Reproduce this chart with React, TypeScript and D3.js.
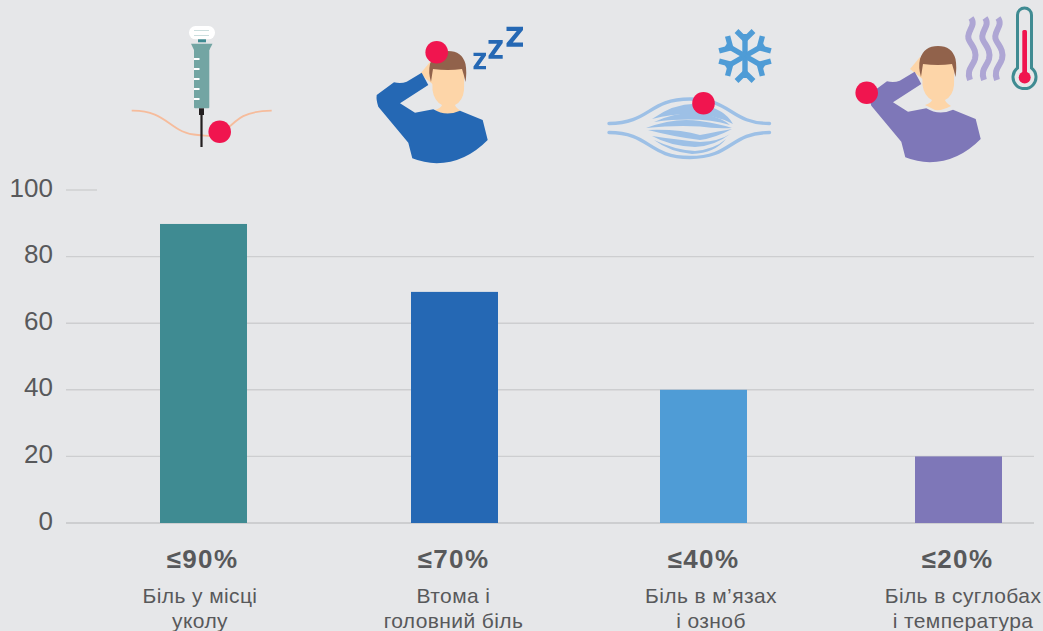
import React from "react";
import * as d3 from "d3";

const W = 1043, H = 631;
const categories = ["syringe", "fatigue", "muscle", "joint"];
const values = [89.8, 69.4, 40, 20];
const valueLabels = ["≤90%", "≤70%", "≤40%", "≤20%"];
const descLine1 = ["Біль у місці", "Втома і", "Біль в м’язах", "Біль в суглобах"];
const descLine2 = ["уколу", "головний біль", "і озноб", "і температура"];
const yTicks = [0, 20, 40, 60, 80, 100];
const barColors = ["#3f8b92", "#2568b4", "#4f9cd6", "#7e77b8"];

const barCenters = [203.5, 454.5, 703.5, 958.5];
const valueCenters = [202.5, 453.5, 703.5, 957.5];
const descCenters = [200, 453.5, 711, 963];

const x = d3.scaleOrdinal<string, number>().domain(categories).range(barCenters);
const y = d3.scaleLinear().domain([0, 100]).range([523, 190]);
const BAR_W = 87;

const TEXT = "#58595b", GRID = "#cdced0", RED = "#f0154f", SKIN = "#fdd5a8", HAIR = "#91624b";
const FONT = "'Liberation Sans', Arial, sans-serif";

function Person({ color, dx, dy, hdx, hdy }: { color: string; dx: number; dy: number; hdx: number; hdy: number }) {
  return (
    <g>
      <g transform={`translate(${hdx},${hdy})`}>
        <path d="M420 74 L430 62 L437 68 L435 86 Z" fill={SKIN} />
        <path d="M432 64 L432.5 90 Q434 101 442 105 Q441 108 435 110 L445 115 Q452 116 461 111 Q456 108 455 105 Q463 101 464 90 L464.5 64 Q448 54 432 64 Z" fill={SKIN} />
        <path d="M431 82 Q428 72 430 64 Q434 51 448 51 Q462 51 465.5 64 Q467 72 465.5 82 Q464 75 462 69 Q448 71 433 69 Q432 75 431 82 Z" fill={HAIR} />
      </g>
      <path
        transform={`translate(${dx},${dy})`}
        d="M421.7 72.7 L428.3 85 L400 103.3 L415 112.7 L433.3 109.3 Q446 117 460 110.7 L482.7 120 L487.7 140 Q465 163 436.7 163.3 Q424 163 412.3 158.3 L408.3 142.7 L378.3 106.7 Q376 100 376.7 95 L394 82.3 Q401 84 406.7 81.7 Z"
        fill={color}
      />
    </g>
  );
}

function Syringe() {
  const ticks = [59, 69, 79, 89, 99];
  return (
    <g>
      <path d="M131.7 110.7 C168 110 170 134 198 135 C212 136 215 138 225 131 C238 118 245 111 271.7 110.7" fill="none" stroke="#f6bc9c" strokeWidth={1.8} />
      <rect x={189} y={26} width={26} height={13.3} rx={6.5} fill="#fff" />
      <path d="M194 30.5H209M194 35.5H209" stroke="#b5d0d0" strokeWidth={0.7} />
      <rect x={198} y={39.3} width={8} height={3} fill="#3f8b92" />
      <path d="M191 43.7H212.5L209.3 50H194Z" fill="#73a5a3" />
      <rect x={194} y={48} width={15.3} height={60.3} rx={1} fill="#73a5a3" />
      {ticks.map((t) => (
        <rect key={t} x={194} y={t - 1} width={5.5} height={2} fill="#fff" />
      ))}
      <rect x={199} y={108.3} width={5} height={6.7} fill="#231f20" />
      <rect x={200.4} y={115} width={2.2} height={32} fill="#231f20" />
      <circle cx={219.7} cy={131.7} r={11.3} fill={RED} />
    </g>
  );
}

function Zs() {
  const z = (a: number, t: number, c: number, b: number, s: number) =>
    `M${a} ${t}H${c}V${t + s * 0.8}L${a + s * 1.5} ${b - s}H${c}V${b}H${a}V${b - s * 0.8}L${c - s * 1.5} ${t + s}H${a}Z`;
  return (
    <g fill="#2568b4">
      <path d={z(473.5, 52.7, 486, 69.3, 3.4)} />
      <path d={z(488.5, 40, 502.7, 58.7, 3.8)} />
      <path d={z(506.5, 26.7, 523, 46.7, 4.2)} />
    </g>
  );
}

function Snowflake() {
  return (
    <g transform="translate(745,56)" fill="none" stroke="#4f9cd6" strokeWidth={5.4}>
      {[0, 60, 120, 180, 240, 300].map((a) => (
        <g key={a} transform={`rotate(${a})`}>
          <path d="M0 0V-22" />
          <path d="M-8.5 -25L0 -16.5L8.5 -25" />
        </g>
      ))}
    </g>
  );
}

function Muscle() {
  return (
    <g>
      <g fill="none" stroke="#9dc0e6" strokeWidth={3.4} strokeLinecap="round">
        <path d="M609 123.5 C650 123.5 648 99 690 99 C732 99 730 123.5 769.5 123.5" />
        <path d="M609 132.5 C650 132.5 648 157.5 690 157.5 C732 157.5 730 132.5 769.5 132.5" />
      </g>
      <g fill="#9dc0e6">
        <path d="M652 119 Q676 102 700 104 Q725 109 733 124 Q700 107 652 119 Z" />
        <path d="M654 122 Q680 110 705 114 Q722 118 730 125 Q700 116 654 122 Z" />
        <path d="M646 128 Q675 117 700 121 Q720 124 732 128 Q715 129 700 126.5 Q675 125 646 128 Z" />
        <path d="M648 130 Q680 129 700 135 Q720 131 732 129 Q715 138 700 140 Q675 137 648 130 Z" />
        <path d="M652 136 Q680 140 700 142 Q720 141 730 134 Q715 146 695 147 Q670 146 652 136 Z" />
        <path d="M654 140 Q675 150 695 151 Q715 149 726 139 Q715 153 692 154 Q670 152 654 140 Z" />
      </g>
      <circle cx={703.5} cy={103.3} r={11.3} fill={RED} />
    </g>
  );
}

function Heat() {
  const wave = (cx: number) =>
    `M${cx - 1} 18 C${cx + 5} 26 ${cx - 7} 32 ${cx - 3} 40 C${cx} 46 ${cx + 5} 50 ${cx + 3} 59 C${cx + 1} 66 ${cx - 6} 70 ${cx - 2} 80`;
  return (
    <g>
      <g fill="none" stroke="#aea6d4" strokeWidth={6}>
        {[972, 986, 999].map((c) => (
          <path key={c} d={wave(c)} />
        ))}
      </g>
      <path
        d="M1017.5 15 A7 7 0 0 1 1031.5 15 V68 A11.5 11.5 0 1 1 1017.5 68 Z"
        fill="#e6e7e9"
        stroke="#3f8b92"
        strokeWidth={3}
      />
      <rect x={1022.3} y={30} width={4.7} height={45} rx={1.5} fill={RED} />
      <circle cx={1024.7} cy={77.5} r={6} fill={RED} />
    </g>
  );
}

export default function App() {
  return (
    <svg width={W} height={H} viewBox={`0 0 ${W} ${H}`} style={{ position: "absolute", left: 0, top: 0, background: "#e6e7e9" }}>
      <rect width={W} height={H} fill="#e6e7e9" />
      {yTicks.map((t) => (
        <line key={t} x1={66} x2={t === 100 ? 97 : 1034} y1={y(t)} y2={y(t)} stroke={GRID} strokeWidth={t === 0 ? 2 : 1.4} />
      ))}
      {yTicks.map((t) => (
        <text key={t} x={53} y={y(t) + 6.5} textAnchor="end" fontFamily={FONT} fontSize={26} fill={TEXT}>
          {t}
        </text>
      ))}
      {categories.map((c, i) => (
        <rect key={c} x={x(c)! - BAR_W / 2} y={y(values[i])} width={BAR_W} height={y(0) - y(values[i])} fill={barColors[i]} />
      ))}
      {categories.map((c, i) => (
        <g key={c} fontFamily={FONT} fill={TEXT} textAnchor="middle">
          <text x={valueCenters[i]} y={568} fontSize={26} fontWeight={700} letterSpacing={1.4}>
            {valueLabels[i]}
          </text>
          <text x={descCenters[i]} y={603} fontSize={21} letterSpacing={0.4}>
            {descLine1[i]}
          </text>
          <text x={descCenters[i]} y={628} fontSize={21} letterSpacing={0.4}>
            {descLine2[i]}
          </text>
        </g>
      ))}
      <Syringe />
      <Person color="#2568b4" dx={0} dy={0} hdx={0} hdy={0} />
      <circle cx={436.7} cy={52.3} r={11.3} fill={RED} />
      <Zs />
      <Snowflake />
      <Muscle />
      <Person color="#7e77b8" dx={493} dy={-1} hdx={490} hdy={-5} />
      <circle cx={866.7} cy={92.7} r={11.3} fill={RED} />
      <Heat />
    </svg>
  );
}
